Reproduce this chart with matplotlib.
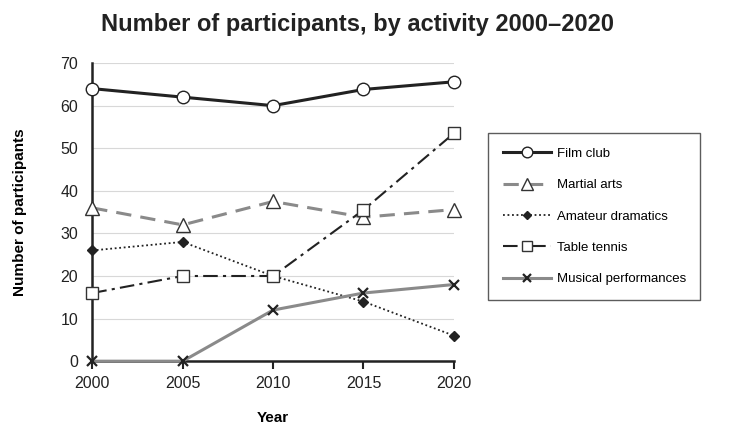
import numpy as np
import matplotlib.pyplot as plt

years = [2000, 2005, 2010, 2015, 2020]
film_club = [64, 62, 60, 63.8, 65.6]
martial_arts = [36, 32, 37.5, 33.8, 35.6]
amateur_dramatics = [26, 28, 20, 14, 6]
table_tennis = [16, 20, 20, 35.5, 53.5]
musical = [0, 0, 12, 16, 18]

plt.rcParams['font.family'] = ['Liberation Sans', 'DejaVu Sans']

fig = plt.figure(figsize=(7.44, 4.41), dpi=100)
ax = fig.add_axes([0.124, 0.181, 0.486, 0.676])

ax.plot(years, film_club, color='#222222', lw=2.2, marker='o', ms=9,
        mfc='white', mec='#222222', mew=1.0, label='Film club', zorder=5, clip_on=False)
ax.plot(years, martial_arts, color='#8a8a8a', lw=2.2, ls=(0, (5, 3)), marker='^', ms=10,
        mfc='white', mec='#333333', mew=1.0, label='Martial arts', zorder=4, clip_on=False)
ax.plot(years, amateur_dramatics, color='#222222', lw=1.3, ls=(0, (1, 1.5)), marker='D', ms=5,
        mfc='#222222', mec='#222222', label='Amateur dramatics', zorder=4, clip_on=False)
ax.plot(years, table_tennis, color='#222222', lw=1.5, ls=(0, (7, 2.5, 1.5, 2.5)), marker='s', ms=8,
        mfc='white', mec='#333333', mew=1.0, label='Table tennis', zorder=4, clip_on=False)
ax.plot(years, musical, color='#8a8a8a', lw=2.2, marker='x', ms=7,
        mec='#222222', mew=1.6, label='Musical performances', zorder=4, clip_on=False)

ax.set_xlim(2000, 2020)
ax.set_ylim(0, 70)
ax.set_xticks(years)
ax.set_yticks(range(0, 71, 10))
ax.yaxis.grid(True, color='#d8d8d8', lw=0.8)
ax.set_axisbelow(True)
for s in ['top', 'right']:
    ax.spines[s].set_visible(False)
for s in ['left', 'bottom']:
    ax.spines[s].set_color('#222222')
    ax.spines[s].set_linewidth(1.8)
ax.tick_params(axis='y', length=0, labelsize=11.5, colors='#222222', pad=10)
ax.tick_params(axis='x', length=6, width=1.5, labelsize=11.5, colors='#222222', pad=5)

ax.set_xlabel('Year', fontsize=11, fontweight='bold', labelpad=14)
ax.set_ylabel('Number of participants', fontsize=11, fontweight='bold', labelpad=24)
fig.suptitle('Number of participants, by activity 2000\u20132020', x=0.48, y=0.97,
             fontsize=17, fontweight='bold', color='#222222')

leg = fig.legend(loc='upper left', bbox_to_anchor=(0.656, 0.698), borderaxespad=0,
                 frameon=True, fancybox=False, edgecolor='#333333', fontsize=9.5,
                 handlelength=3.7, labelspacing=1.45, borderpad=1.1, handletextpad=0.4,
                 markerscale=0.85)
leg.get_frame().set_linewidth(1.0)

fig.savefig('out.png', dpi=100)
